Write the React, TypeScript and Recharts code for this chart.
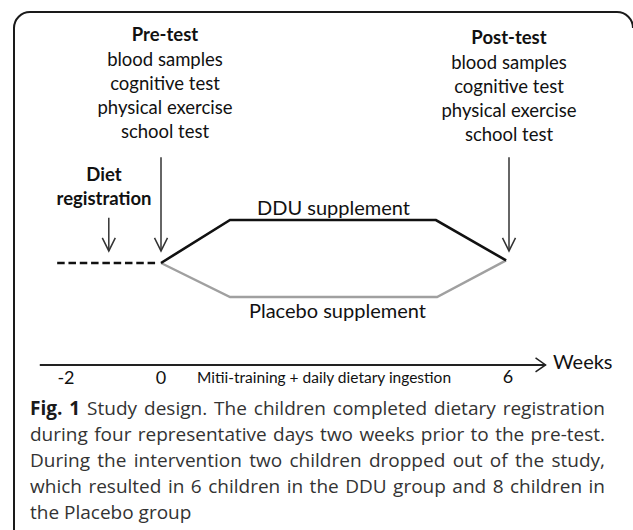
import React from 'react';
import { LineChart, Line, XAxis, YAxis, ReferenceLine, Customized } from 'recharts';

// --- data (weeks on x, schematic level on y) ---
const dietPeriod = [
  { w: -1.79, v: 0 },
  { w: -0.05, v: 0 },
];
const dduSupplement = [
  { w: 0, v: 0 },
  { w: 1.19, v: 1 },
  { w: 4.74, v: 1 },
  { w: 5.95, v: 0.06 },
];
const placeboSupplement = [
  { w: 0, v: 0 },
  { w: 1.19, v: -0.79 },
  { w: 4.76, v: -0.79 },
  { w: 5.95, v: 0.06 },
];
// arrows: week, from level, to level
const eventArrows = [
  { w: -0.9, from: 1.05, to: 0.28 },
  { w: 0, from: 2.46, to: 0.28 },
  { w: 6, from: 2.46, to: 0.28 },
];
const timeAxis = { from: -2.09, to: 6.63, level: -2.37 };

const weekTickLabels = ['-2', '0', '6'];
const preTest = ['Pre-test', 'blood samples', 'cognitive test', 'physical exercise', 'school test'];
const postTest = ['Post-test', 'blood samples', 'cognitive test', 'physical exercise', 'school test'];
const dietLabel = ['Diet', 'registration'];
const groupLabels = ['DDU supplement', 'Placebo supplement'];
const axisTitle = 'Weeks';
const periodLabel = 'Mitii-training + daily dietary ingestion';
const captionBold = 'Fig. 1';
const captionLines = [
  ' Study design. The children completed dietary registration',
  'during four representative days two weeks prior to the pre-test.',
  'During the intervention two children dropped out of the study,',
  'which resulted in 6 children in the DDU group and 8 children in',
  'the Placebo group',
];

const FONT = 'Lato, "Open Sans", sans-serif';
const CAP_FONT = '"Open Sans", "Noto Sans", sans-serif';
const CAP_SIZE = 19;
const CAP_WIDTH = 575;

let measureCtx: CanvasRenderingContext2D | null = null;
function measure(text: string, weight: number) {
  if (typeof document === 'undefined') return 0;
  if (!measureCtx) measureCtx = document.createElement('canvas').getContext('2d');
  if (!measureCtx) return 0;
  measureCtx.font = `${weight} ${CAP_SIZE}px "Open Sans"`;
  return measureCtx.measureText(text).width;
}

function ArrowDown(props: any) {
  const { x1, y1, x2, y2 } = props;
  const h = 6.5;
  const l = 13;
  return (
    <g stroke="#333" strokeWidth={1.5} fill="none">
      <line x1={x1} y1={y1} x2={x2} y2={y2} />
      <polyline points={`${x2 - h},${y2 - l} ${x2},${y2} ${x2 + h},${y2 - l}`} />
    </g>
  );
}

function ArrowRight(props: any) {
  const { x1, y1, x2, y2 } = props;
  return (
    <g stroke="#222" fill="none">
      <line x1={x1} y1={y1} x2={x2} y2={y2} strokeWidth={2} />
      <polyline points={`${x2 - 10},${y2 - 7} ${x2},${y2} ${x2 - 10},${y2 + 7}`} strokeWidth={1.5} />
    </g>
  );
}

function Decorations() {
  const preY = [41, 66, 90, 114, 138];
  const postY = [44, 69, 93, 117, 141];
  const capY = [415, 441, 467, 493, 519];
  return (
    <g>
      <path d="M14 530 V 28 A16 16 0 0 1 30 12 H 617 A16 16 0 0 1 633 28" stroke="#1a1a1a" strokeWidth={2} fill="none" />
      {preTest.map((t, i) => (
        <text key={'pre' + i} x={165} y={preY[i]} textAnchor="middle" fontFamily={FONT} fontSize={18.5}
          fontWeight={i === 0 ? 700 : 400} fill="#111">{t}</text>
      ))}
      {postTest.map((t, i) => (
        <text key={'post' + i} x={509} y={postY[i]} textAnchor="middle" fontFamily={FONT} fontSize={18.5}
          fontWeight={i === 0 ? 700 : 400} fill="#111">{t}</text>
      ))}
      {dietLabel.map((t, i) => (
        <text key={'diet' + i} x={104} y={181 + i * 24} textAnchor="middle" fontFamily={FONT} fontSize={18.5}
          fontWeight={700} fill="#111">{t}</text>
      ))}
      <text x={257} y={215} fontFamily={FONT} fontSize={20} fill="#111">{groupLabels[0]}</text>
      <text x={249} y={318} fontFamily={FONT} fontSize={20} fill="#111">{groupLabels[1]}</text>
      <text x={66} y={384} textAnchor="middle" fontFamily={FONT} fontSize={18} fill="#111">{weekTickLabels[0]}</text>
      <text x={161} y={384} textAnchor="middle" fontFamily={FONT} fontSize={18} fill="#111">{weekTickLabels[1]}</text>
      <text x={508} y={383} textAnchor="middle" fontFamily={FONT} fontSize={18} fill="#111">{weekTickLabels[2]}</text>
      <text x={197} y={383} fontFamily={FONT} fontSize={15.5} fill="#111">{periodLabel}</text>
      <text x={553} y={369} fontFamily={FONT} fontSize={20} fill="#111">{axisTitle}</text>
      {captionLines.map((t, i) => {
        const full = i === 0 ? captionBold + t : t;
        const natural = i === 0 ? measure(captionBold, 700) + measure(t, 400) : measure(t, 400);
        const spaces = (full.match(/ /g) || []).length;
        const ws = i < 4 && natural > 0 && spaces > 0 ? (CAP_WIDTH - natural) / spaces : 0;
        return (
          <text key={'cap' + i} x={30} y={capY[i]} fontFamily={CAP_FONT} fontSize={CAP_SIZE} fill="#333"
            style={{ wordSpacing: `${ws}px`, whiteSpace: 'pre' }}>
            {i === 0 ? <tspan fontWeight={700} fill="#1a1a1a">{captionBold}</tspan> : null}
            {t}
          </text>
        );
      })}
    </g>
  );
}

export default function App() {
  return (
    <div style={{ position: 'absolute', left: 0, top: 0, background: '#fff' }}>
      <LineChart width={633} height={530} margin={{ top: 5, right: 37, bottom: 9, left: 16 }}>
        <XAxis type="number" dataKey="w" domain={[-2.5, 7.5]} hide allowDataOverflow />
        <YAxis type="number" dataKey="v" domain={[-6, 6]} hide allowDataOverflow />
        <Line data={dietPeriod} dataKey="v" stroke="#111" strokeWidth={2.6} strokeDasharray="7.5 3.8"
          dot={false} isAnimationActive={false} type="linear" />
        <Line data={placeboSupplement} dataKey="v" stroke="#a0a0a0" strokeWidth={2.4}
          dot={false} isAnimationActive={false} type="linear" />
        <Line data={dduSupplement} dataKey="v" stroke="#111" strokeWidth={2.6}
          dot={false} isAnimationActive={false} type="linear" />
        {eventArrows.map((a, i) => (
          <ReferenceLine key={'arr' + i} segment={[{ x: a.w, y: a.from }, { x: a.w, y: a.to }]}
            shape={(p: any) => <ArrowDown {...p} />} />
        ))}
        <ReferenceLine segment={[{ x: timeAxis.from, y: timeAxis.level }, { x: timeAxis.to, y: timeAxis.level }]}
          shape={(p: any) => <ArrowRight {...p} />} />
        <Customized component={Decorations} />
      </LineChart>
    </div>
  );
}
